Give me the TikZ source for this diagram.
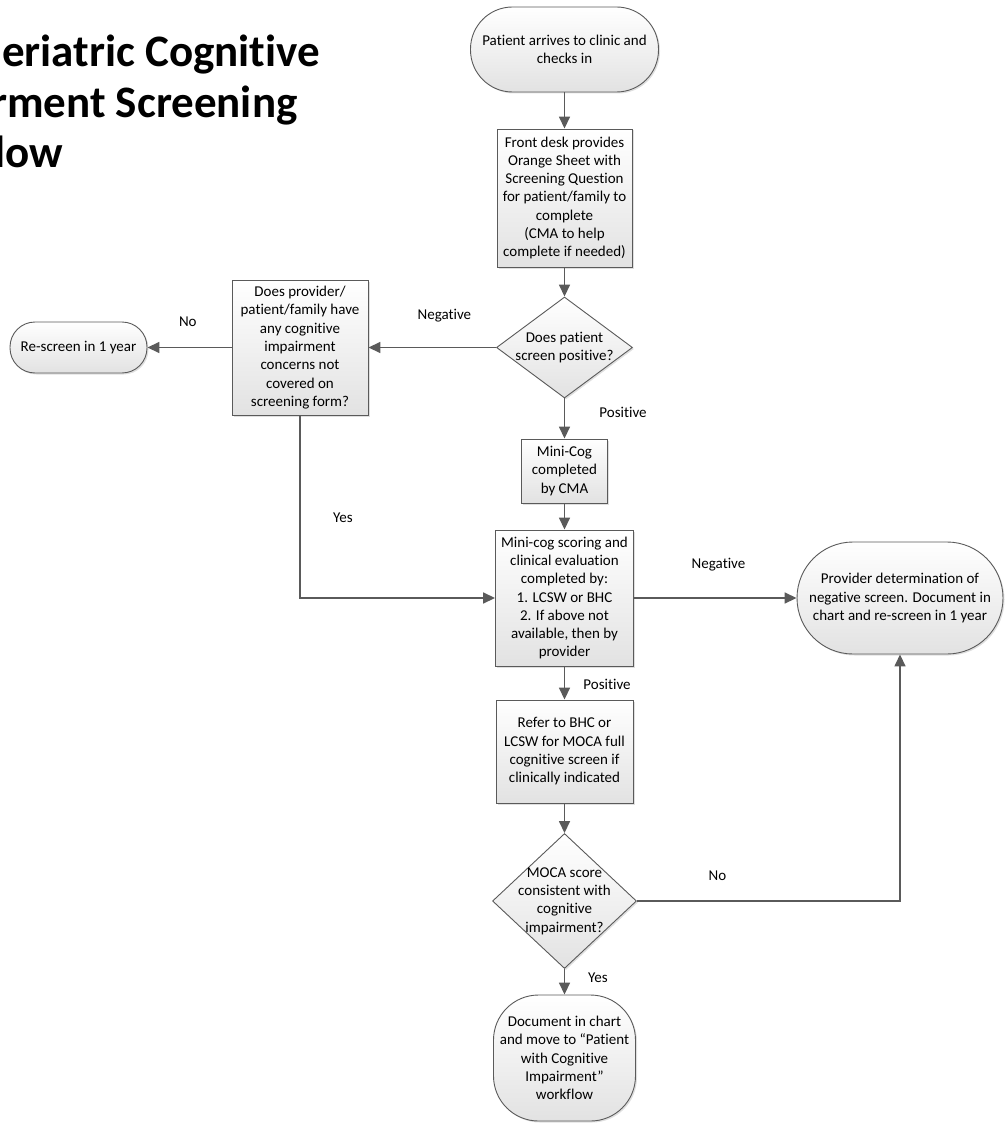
\documentclass[tikz,border=0pt]{standalone}
\usepackage{fontspec}
\setmainfont{Carlito}[Ligatures=NoCommon]
\usetikzlibrary{arrows.meta, positioning, shapes.geometric, shadows}

\definecolor{edgegray}{HTML}{5A5A5A}
\definecolor{fillgray}{HTML}{E2E2E2}

\tikzset{
	box/.style={draw=edgegray, line width=0.9pt, top color=white, bottom color=fillgray,
		drop shadow={opacity=0.25, shadow xshift=1.5pt, shadow yshift=-1.5pt},
		align=center, inner sep=1pt, font=\fontsize{15}{18.3}\selectfont},
	process/.style={box, rectangle},
	terminal/.style={box, rectangle, rounded corners=#1},
	decision/.style={box, diamond},
	flowline/.style={color=edgegray, line width=1.6pt, -{Triangle[length=12pt, width=11pt]}},
	tag/.style={font=\fontsize{15}{18}\selectfont, inner sep=0pt, text=black},
	heading/.style={font=\bfseries\fontsize{45}{51}\selectfont, anchor=base west, inner sep=0pt}
}

\begin{document}
\begin{tikzpicture}[x=1pt, y=-1pt, on grid]
	\useasboundingbox (0,0) rectangle (1004,1123);
	
	% title, cut off at the left edge
	\node[heading] (title_1) at (2,67) {\llap{G}eriatric Cognitive};
	\node[heading] (title_2) at (-9,118) {\llap{Impai}rment Screening};
	\node[heading, anchor=base east] (title_3) at (63,168) {Workflow};
	
	\node[terminal=42pt, minimum width=188pt, minimum height=85pt] (start) at (564.5,49.5) {Patient arrives to clinic and\\checks in};
	\node[process, minimum width=135pt, minimum height=138pt, below=148.5pt of start] (desk) {Front desk provides\\Orange Sheet with\\Screening Question\\for patient/family to\\complete\\(CMA to help\\complete if needed)};
	\node[decision, inner sep=-12pt, minimum width=136pt, minimum height=101pt, below=149.5pt of desk] (screen) {Does patient\\screen positive?};
	\node[process, minimum width=136pt, minimum height=135pt, left=264.5pt of screen] (concern) {Does provider/\\patient/family have\\any cognitive\\impairment\\concerns not\\covered on\\screening form?};
	\node[terminal=25pt, minimum width=137pt, minimum height=51pt, left=221.5pt of concern] (rescreen) {Re-screen in 1 year};
	\node[process, minimum width=86pt, minimum height=64pt, below=123.5pt of screen] (minicog) {Mini-Cog\\completed\\by CMA};
	\node[process, minimum width=138pt, minimum height=136pt, below=127pt of minicog] (scoring) {Mini-cog scoring and\\clinical evaluation\\completed by:\\1. LCSW or BHC\\2. If above not\\available, then by\\provider};
	\node[terminal=56pt, minimum width=206pt, minimum height=112pt, right=335.5pt of scoring] (negative) {Provider determination of\\negative screen. Document in\\chart and re-screen in 1 year};
	\node[process, minimum width=137pt, minimum height=103pt, below=153.5pt of scoring] (refer) {Refer to BHC or\\LCSW for MOCA full\\cognitive screen if\\clinically indicated};
	\node[decision, inner sep=-16pt, minimum width=144pt, minimum height=135pt, below=149.5pt of refer] (moca) {MOCA score\\consistent with\\cognitive\\impairment?};
	\node[terminal=45pt, minimum width=142pt, minimum height=126pt, below=157pt of moca] (document) {Document in chart\\and move to “Patient\\with Cognitive\\Impairment”\\workflow};
	
	\path[flowline]
	(start) edge (desk)
	(desk) edge (screen)
	(screen.west) edge node[tag, pos=0.405, yshift=31.5pt]{Negative} (concern.east)
	(concern.west) edge node[tag, pos=0.52, yshift=25.5pt]{No} (rescreen.east)
	(screen) edge node[tag, pos=0.34, xshift=58.5pt]{Positive} (minicog)
	(minicog) edge (scoring)
	(scoring.east) edge node[tag, pos=0.52, yshift=33pt]{Negative} (negative.west)
	(scoring) edge node[tag, pos=0.53, xshift=42.5pt]{Positive} (refer)
	(refer) edge (moca)
	(moca) edge node[tag, pos=0.36, xshift=33.5pt]{Yes} (document);
	
	\draw[flowline] (concern.south) |- node[tag, pos=0.28, xshift=43pt]{Yes} (scoring.west);
	\draw[flowline] (moca.east) -| node[tag, pos=0.153, yshift=25pt]{No} (negative.south);
\end{tikzpicture}
\end{document}
